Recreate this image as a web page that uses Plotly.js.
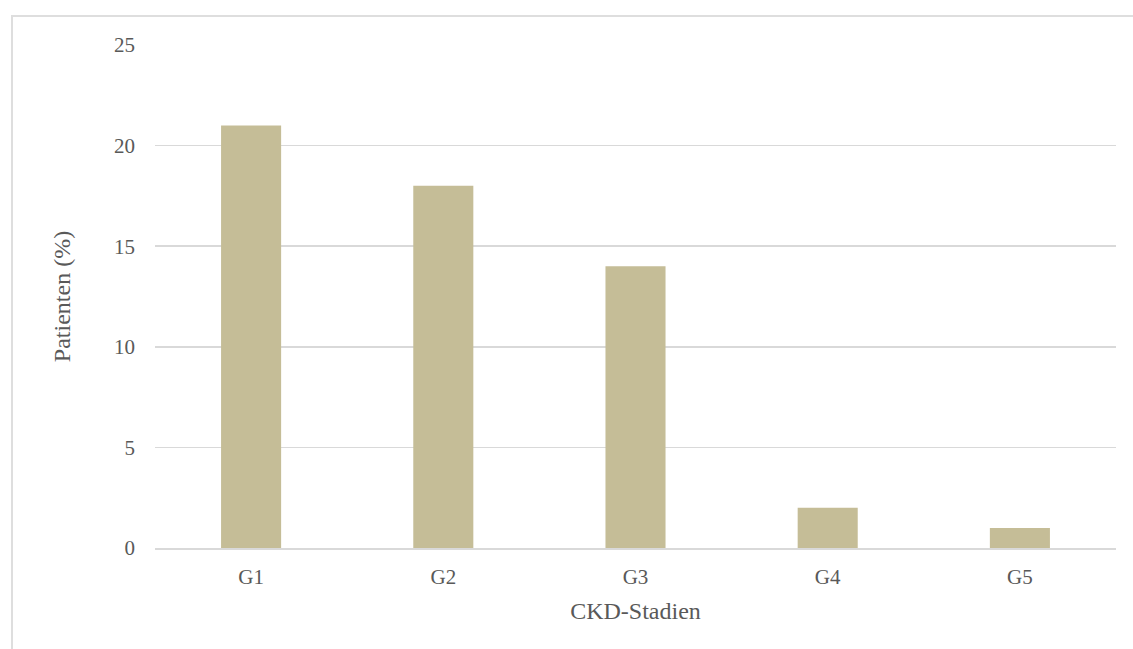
<!DOCTYPE html>
<html><head><meta charset="utf-8">
<script src="https://cdn.plot.ly/plotly-3.0.1.min.js"></script>
<style>
html,body{margin:0;padding:0;background:#fff;}
#wrap{position:relative;width:1133px;height:649px;}
#chart{position:absolute;left:0;top:0;width:1133px;height:649px;}
#frame{position:absolute;left:11px;top:15px;width:1130px;height:640px;border-left:2px solid #dedede;border-top:2px solid #dedede;pointer-events:none;}
</style></head>
<body><div id="wrap"><div id="chart"></div><div id="frame"></div></div>
<script>
const categories = ["G1","G2","G3","G4","G5"];
const values = [21,18,14,2,1];
const yTicks = [0,5,10,15,20,25];
const xTitle = "CKD-Stadien";
const yTitle = "Patienten (%)";

const font = {family:"Liberation Serif, DejaVu Serif, serif", color:"#595959"};
Plotly.newPlot("chart",[{
  type:"bar", x:categories, y:values,
  marker:{color:"#C5BD97"}, hoverinfo:"none"
}],{
  width:1133, height:649,
  margin:{l:155,r:17,t:45,b:101},
  paper_bgcolor:"#fff", plot_bgcolor:"#fff",
  bargap:0.6875,
  showlegend:false,
  font:font,
  xaxis:{
    tickfont:{...font,size:21},
    title:{text:xTitle, font:{...font,size:24}, standoff:14},
    showgrid:false, showline:true, linecolor:"#d9d9d9", linewidth:2,
    ticks:"", ticklabelstandoff:9
  },
  yaxis:{
    range:[0,25], tickvals:yTicks,
    tickfont:{...font,size:21},
    title:{text:yTitle, font:{...font,size:24}, standoff:36},
    showgrid:true, gridcolor:"#d9d9d9", gridwidth:1.5,
    zeroline:false, showline:false, ticks:"", ticklabelstandoff:19
  }
},{staticPlot:true});
</script></body></html>
